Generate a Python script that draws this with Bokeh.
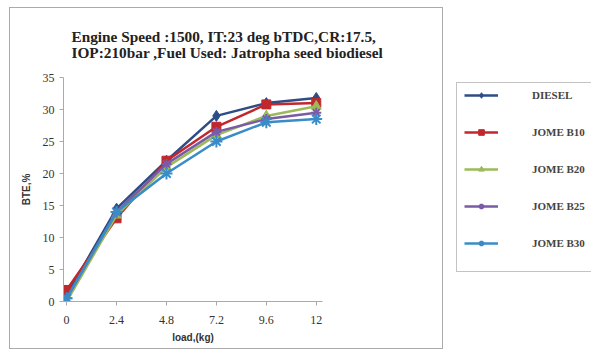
from bokeh.plotting import figure
from bokeh.models import Legend, LegendItem, Title, FixedTicker, Range1d
from bokeh.layouts import row
from bokeh.embed import file_html
from bokeh.resources import INLINE

load = [0, 2.4, 4.8, 7.2, 9.6, 12]
tick_labels = ["0", "2.4", "4.8", "7.2", "9.6", "12"]
diesel = [1.0, 14.5, 22.0, 29.0, 31.0, 31.8]
jome_b10 = [1.8, 13.0, 22.0, 27.3, 30.8, 31.0]
jome_b20 = [0.0, 13.5, 21.0, 26.0, 29.0, 30.5]
jome_b25 = [0.5, 14.0, 21.5, 26.5, 28.5, 29.5]
jome_b30 = [0.5, 14.0, 20.0, 25.0, 28.0, 28.5]

series = [
    ("DIESEL", diesel, "#2E4D86", "diamond", 11),
    ("JOME B10", jome_b10, "#C0282D", "square", 9),
    ("JOME B20", jome_b20, "#9BBB59", "triangle", 10),
    ("JOME B25", jome_b25, "#7B5AA6", "asterisk", 10),
    ("JOME B30", jome_b30, "#3A8CC8", "asterisk", 12),
]

p = figure(width=434, height=342, output_backend="svg", toolbar_location=None,
           x_range=Range1d(-0.15, 12.3), y_range=Range1d(0, 35),
           min_border_left=53, min_border_right=122, min_border_top=69,
           min_border_bottom=49, margin=(7, 0, 0, 9),
           styles={"border": "1.5px solid #AAAAAA", "box-sizing": "border-box"})
p.outline_line_color = None
p.xgrid.visible = False
p.ygrid.visible = False

t = Title(text="Engine Speed :1500, IT:23 deg bTDC,CR:17.5,\nIOP:210bar ,Fuel Used: Jatropha seed biodiesel",
          text_font="Liberation Serif", text_font_size="15.3px", text_font_style="bold",
          text_color="#222222", align="left", offset=8, standoff=33, text_line_height=0.93)
p.add_layout(t, "above")

def draw(fig, xs, ys, color, marker, size):
    r1 = fig.line(xs, ys, line_color=color, line_width=2.5)
    if marker == "asterisk":
        r2 = fig.scatter(xs, ys, marker=marker, size=size, line_color=color, line_width=2)
    else:
        r2 = fig.scatter(xs, ys, marker=marker, size=size, fill_color=color, line_color=color)
    return r1, r2

for name, vals, color, marker, size in series:
    draw(p, load, vals, color, marker, size)

p.xaxis.ticker = FixedTicker(ticks=load)
p.xaxis.major_label_overrides = {v: s for v, s in zip(load, tick_labels)}
p.yaxis.ticker = FixedTicker(ticks=[0, 5, 10, 15, 20, 25, 30, 35])
for ax in (p.xaxis[0], p.yaxis[0]):
    ax.axis_line_color = "#AAAAAA"
    ax.major_tick_line_color = "#AAAAAA"
    ax.minor_tick_line_color = None
    ax.major_tick_in = 0
    ax.major_tick_out = 4
    ax.major_label_text_font = "Liberation Sans Narrow"
    ax.major_label_text_font_size = "12px"
    ax.major_label_text_color = "#333333"
    ax.axis_label_text_font = "Liberation Sans"
    ax.axis_label_text_font_size = "10px"
    ax.axis_label_text_font_style = "bold"
    ax.axis_label_text_color = "#333333"
p.xaxis.axis_label = "load,(kg)"
p.yaxis.axis_label = "BTE,%"
p.xaxis.major_label_standoff = 10
p.xaxis.axis_label_standoff = 5
p.yaxis.axis_label_standoff = 8

# legend panel
p2 = figure(width=148, height=349, output_backend="svg", toolbar_location=None,
            title=None, x_axis_location=None, y_axis_location=None,
            x_range=Range1d(0, 1), y_range=Range1d(0, 1),
            min_border=0, min_border_left=0, min_border_right=0,
            min_border_top=0, min_border_bottom=0)
p2.grid.visible = False
p2.outline_line_color = None

hidden_x = [5, 6]
hidden_y = [5, 5]

# outer legend frame (one blank entry sized to the box)
blank = p2.line(hidden_x, hidden_y, line_alpha=0)
frame_legend = Legend(items=[LegendItem(label=" ", renderers=[blank])], location=(13, 28),
                      glyph_width=34, glyph_height=180, label_height=180, label_width=200,
                      padding=4, margin=0, border_line_color="#888888", border_line_width=1.5,
                      background_fill_alpha=0, label_text_font_size="8px")
p2.add_layout(frame_legend)

items = []
for name, vals, color, marker, size in series:
    r1, r2 = draw(p2, hidden_x, hidden_y, color, marker, size)
    items.append(LegendItem(label=name, renderers=[r1, r2]))

legend = Legend(items=items, location=(21, 50), orientation="vertical",
                label_text_font="Liberation Serif", label_text_font_size="11px",
                label_text_font_style="bold", label_text_color="#444444",
                glyph_width=34, glyph_height=14, label_standoff=34, spacing=23,
                padding=4, margin=0, border_line_color=None,
                background_fill_alpha=0, label_width=60, label_height=14)
p2.add_layout(legend)

layout = row(p, p2)
open("out.html", "w").write(file_html(layout, INLINE))
